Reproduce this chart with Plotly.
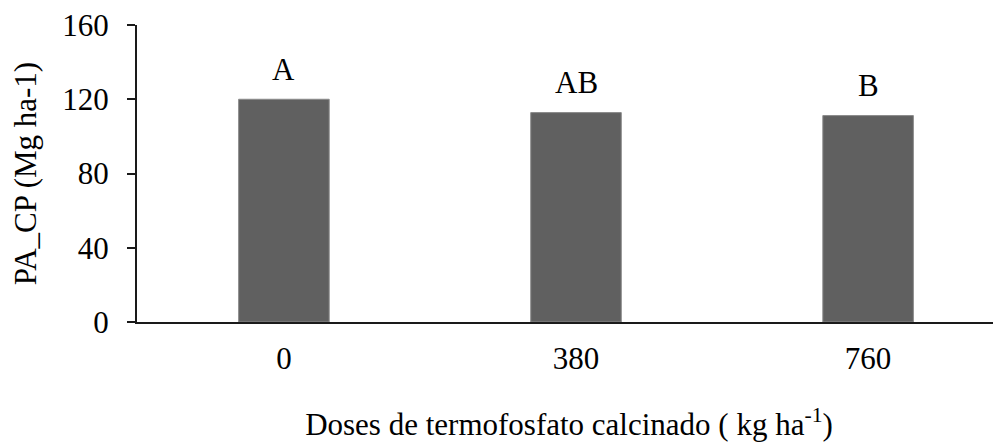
import plotly.graph_objects as go

categories = ["0", "380", "760"]
values = [120.0, 112.8, 111.2]
letters = ["A", "AB", "B"]
y_ticks = [0, 40, 80, 120, 160]

FONT = "Liberation Serif, Times New Roman, serif"
FS = 31

fig = go.Figure()
fig.add_trace(go.Bar(
    x=categories, y=values,
    marker=dict(color="#606060", line=dict(color="#8a8a8a", width=1)),
    width=0.31,
    showlegend=False,
))

for i, (v, t) in enumerate(zip(values, letters)):
    fig.add_annotation(x=i, y=v, xref="x", yref="y", text=t, showarrow=False,
                       yshift=30, yanchor="middle",
                       font=dict(family=FONT, size=FS, color="black"))

# page body has an 8px margin, so the figure is sized/offset to compensate
fig.update_layout(
    width=993, height=434,
    margin=dict(l=129, r=0, t=17, b=120),
    plot_bgcolor="white", paper_bgcolor="white",
    font=dict(family=FONT, size=FS, color="black"),
    xaxis=dict(
        type="category", range=[-0.503, 2.455],
        showline=True, linecolor="#1a1a1a", linewidth=2,
        ticks="outside", ticklen=8, tickcolor="rgba(0,0,0,0)",
        showgrid=False, zeroline=False,
        tickfont=dict(family=FONT, size=FS),
        title=dict(text="Doses de termofosfato calcinado ( kg ha<sup>-1</sup>)",
                   font=dict(family=FONT, size=FS), standoff=38),
    ),
    yaxis=dict(
        range=[0, 160.001], tickvals=y_ticks,
        showline=True, linecolor="#1a1a1a", linewidth=2,
        ticks="outside", ticklen=8, tickwidth=2, tickcolor="#1a1a1a",
        ticklabelstandoff=12, ticklabeloverflow="allow",
        showgrid=False, zeroline=False,
        tickfont=dict(family=FONT, size=FS),
        title=dict(text="PA_CP (Mg ha-1)", font=dict(family=FONT, size=FS), standoff=16),
    ),
)

fig.write_html("out.html")
